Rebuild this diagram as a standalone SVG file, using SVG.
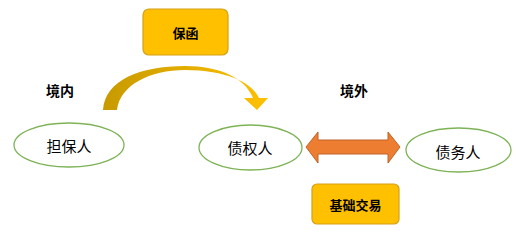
<svg xmlns="http://www.w3.org/2000/svg" width="516" height="235" viewBox="0 0 516 235">
<style>
.box{fill:#FFC000;stroke:#D4A017;stroke-width:1.2}
.ell{fill:#fff;stroke:#7DB356;stroke-width:1.3}
.t{font-family:"Noto Sans CJK SC","Noto Sans",sans-serif;font-size:15px;fill:#000;text-anchor:middle;dominant-baseline:central}
.b{font-weight:bold;font-size:13px}
.lbl{font-weight:bold;font-size:14px}
</style>
<defs>
<linearGradient id="g" x1="0" x2="1" y1="0" y2="0">
<stop offset="0" stop-color="#C79A00"/>
<stop offset="1" stop-color="#FFC000"/>
</linearGradient>
</defs>
<rect width="516" height="235" fill="#fff"/>
<g id="connectors">
<path d="M103,110 C105,80 140,66 185,66 C220,66 245,78 253,98 L244,98 L257,110 L268,98 L259,98 C252,82 225,70 185,70 C150,70 120,85 117,110 Z" fill="url(#g)"/>
<path d="M306,147 L318,132 L318,140 L388,140 L388,132 L400,147 L388,163 L388,154 L318,154 L318,163 Z" fill="#ED7D31" stroke="#C0622A" stroke-width="1"/>
</g>
<g id="baohan"><rect class="box" x="143" y="9" width="85" height="46" rx="6"/><text class="t b" x="185.5" y="32">保函</text></g>
<g id="jingnei"><text class="t lbl" x="60" y="90">境内</text></g>
<g id="jingwai"><text class="t lbl" x="354" y="90">境外</text></g>
<g id="danbaoren"><ellipse class="ell" cx="69" cy="145" rx="55" ry="22"/><text class="t" x="69" y="145">担保人</text></g>
<g id="zhaiquanren"><ellipse class="ell" cx="250.5" cy="147.5" rx="51.5" ry="22.5"/><text class="t" x="250" y="147">债权人</text></g>
<g id="zhaiwuren"><ellipse class="ell" cx="458.5" cy="150" rx="52.5" ry="22"/><text class="t" x="458" y="151">债务人</text></g>
<g id="jichujiaoyi"><rect class="box" x="312" y="184" width="87" height="40" rx="5"/><text class="t b" x="355.5" y="204">基础交易</text></g>
</svg>
